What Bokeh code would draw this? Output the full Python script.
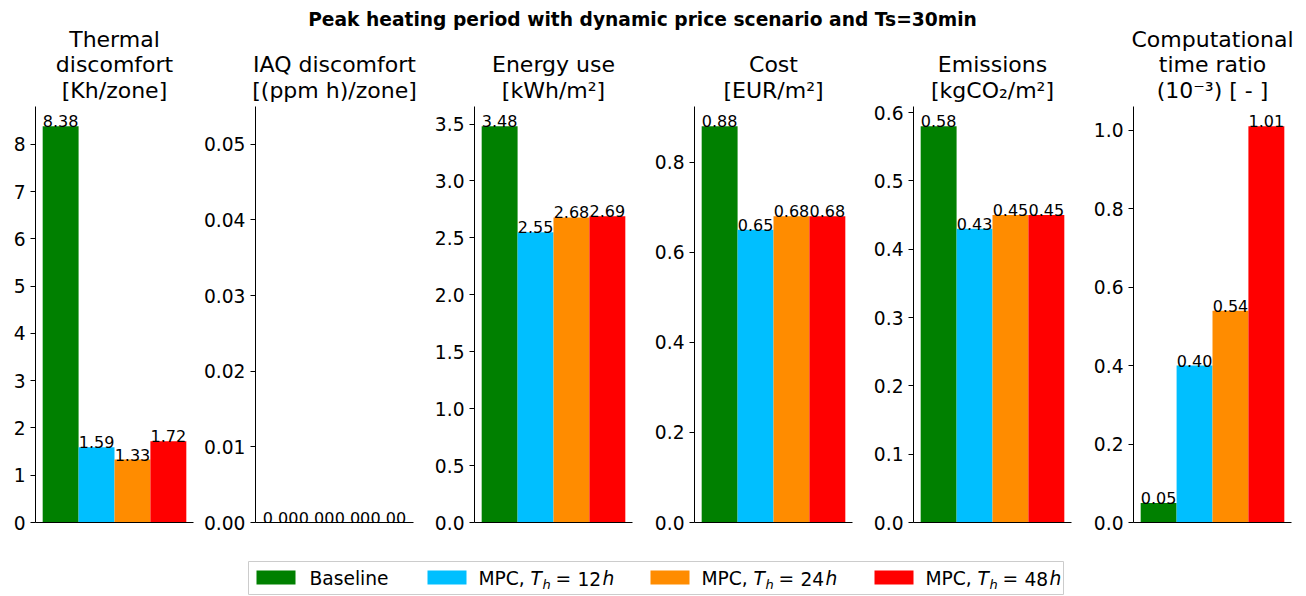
from bokeh.plotting import figure
from bokeh.layouts import column, row
from bokeh.models import ColumnDataSource, Range1d, FixedTicker, PrintfTickFormatter
from bokeh.embed import file_html
from bokeh.resources import INLINE
from bokeh.core.properties import value

# ---------------- data ----------------
suptitle = "Peak heating period with dynamic price scenario and Ts=30min"
series = ["Baseline", "MPC, T_h = 12h", "MPC, T_h = 24h", "MPC, T_h = 48h"]
horizons = ["12", "24", "48"]
colors = ["#008000", "#00bfff", "#ff8c00", "#ff0000"]

panel_titles = [
    ["Thermal", "discomfort", "[Kh/zone]"],
    ["IAQ discomfort", "[(ppm h)/zone]"],
    ["Energy use", "[kWh/m\u00b2]"],
    ["Cost", "[EUR/m\u00b2]"],
    ["Emissions", "[kgCO\u2082/m\u00b2]"],
    ["Computational", "time ratio", "(10\u207b\u00b3) [ - ]"],
]

thermal = [8.38, 1.59, 1.33, 1.72]
iaq = [0.0, 0.0, 0.0, 0.0]
energy = [3.48, 2.55, 2.68, 2.69]
cost = [0.88, 0.65, 0.68, 0.68]
emissions = [0.58, 0.43, 0.45, 0.45]
comp_ratio = [0.05, 0.40, 0.54, 1.01]

yticks_thermal = [0, 1, 2, 3, 4, 5, 6, 7, 8]
yticks_iaq = [0.0, 0.01, 0.02, 0.03, 0.04, 0.05]
yticks_energy = [0.0, 0.5, 1.0, 1.5, 2.0, 2.5, 3.0, 3.5]
yticks_cost = [0.0, 0.2, 0.4, 0.6, 0.8]
yticks_emissions = [0.0, 0.1, 0.2, 0.3, 0.4, 0.5, 0.6]
yticks_comp = [0.0, 0.2, 0.4, 0.6, 0.8, 1.0]

panels = [thermal, iaq, energy, cost, emissions, comp_ratio]
panel_ticks = [yticks_thermal, yticks_iaq, yticks_energy, yticks_cost, yticks_emissions, yticks_comp]
tick_formats = ["%d", "%.2f", "%.1f", "%.1f", "%.1f", "%.1f"]
iaq_empty_top = 0.055

# ---------------- layout ----------------
FONT = "DejaVu Sans"
FRAME_W = 158
FRAME_H = 416
TOP = 20          # row figures overlap the header by this many pixels
BOTTOM = 20
left_borders = [35, 59, 58, 58, 57, 58]
right_borders = [3, 3, 4, 4, 4, 15]
TOTAL_W = 1306
HEADER_H = 106
LEGEND_H = 54
BASE_SHIFT = 0.32  # em shift from baseline to the anchor used by the renderer
BAR_FS = 16

figs = []
centers = []
xpos = 0
for k, vals in enumerate(panels):
    vmax = max(vals)
    top = vmax * 1.05 if vmax > 0 else iaq_empty_top
    w = left_borders[k] + FRAME_W + right_borders[k]
    p = figure(width=w, height=TOP + FRAME_H + BOTTOM,
               x_range=Range1d(-0.7, 3.7), y_range=Range1d(0, top),
               output_backend="svg", toolbar_location=None,
               min_border_left=left_borders[k], min_border_right=right_borders[k],
               min_border_top=TOP, min_border_bottom=BOTTOM)
    centers.append(xpos + left_borders[k] + FRAME_W / 2)
    xpos += w
    p.outline_line_color = None
    p.grid.visible = False
    p.background_fill_color = "white"
    p.border_fill_color = None
    p.border_fill_alpha = 0

    src = ColumnDataSource(dict(
        x=list(range(len(vals))),
        top=vals,
        color=colors,
        label=["%.2f" % v for v in vals],
    ))
    p.vbar(x="x", top="top", width=1.0, bottom=0, fill_color="color",
           line_color=None, source=src)
    p.text(x="x", y="top", text="label", source=src,
           text_font=value(FONT), text_font_size="%dpx" % BAR_FS,
           text_align="center", text_baseline="alphabetic", text_color="black",
           y_offset=-round(BASE_SHIFT * BAR_FS))

    ya = p.yaxis[0]
    ya.ticker = FixedTicker(ticks=panel_ticks[k])
    ya.formatter = PrintfTickFormatter(format=tick_formats[k])
    ya.major_label_text_font = FONT
    ya.major_label_text_font_size = "18.67px"
    ya.major_label_text_color = "black"
    ya.major_tick_out = 5
    ya.major_tick_in = 0
    ya.minor_tick_out = 0
    ya.minor_tick_in = 0
    ya.major_label_standoff = 5
    ya.axis_line_color = "black"
    ya.axis_line_width = 1
    ya.major_tick_line_color = "black"

    xa = p.xaxis[0]
    xa.ticker = FixedTicker(ticks=[])
    xa.major_label_text_font_size = "0px"
    xa.major_tick_out = 0
    xa.major_tick_in = 0
    xa.minor_tick_out = 0
    xa.minor_tick_in = 0
    xa.major_label_standoff = 0
    xa.axis_line_color = "black"
    xa.axis_line_width = 1
    figs.append(p)

# ---------------- header (titles) ----------------
header = figure(width=TOTAL_W, height=HEADER_H,
                x_range=Range1d(0, TOTAL_W), y_range=Range1d(HEADER_H, 0),
                output_backend="svg", toolbar_location=None,
                x_axis_location=None, y_axis_location=None,
                min_border=0)
header.outline_line_color = None
header.grid.visible = False
SUP_FS = 18.67
header.text(x=[642], y=[25 - BASE_SHIFT * SUP_FS], text=[suptitle],
            text_font=value(FONT), text_font_size="18.67px", text_font_style="bold",
            text_align="center", text_baseline="alphabetic", text_color="black")
TITLE_FS = 22
LINE_SP = 25.5
LAST_BASE = 97
tx, ty, tt = [], [], []
for k, lines in enumerate(panel_titles):
    n = len(lines)
    for i, line in enumerate(lines):
        tx.append(centers[k])
        ty.append(LAST_BASE - (n - 1 - i) * LINE_SP - BASE_SHIFT * TITLE_FS)
        tt.append(line)
header.text(x=tx, y=ty, text=tt, text_font=value(FONT), text_font_size="22px",
            text_align="center", text_baseline="alphabetic", text_color="black")

# ---------------- legend ----------------
leg = figure(width=TOTAL_W, height=LEGEND_H,
             x_range=Range1d(0, TOTAL_W), y_range=Range1d(LEGEND_H, 0),
             output_backend="svg", toolbar_location=None,
             x_axis_location=None, y_axis_location=None, min_border=0)
leg.outline_line_color = None
leg.grid.visible = False
leg.quad(left=[248], right=[1063], top=[19], bottom=[52],
         fill_color="white", line_color="#cccccc", line_width=1)
sw_x = [256, 427, 650, 874]
leg.quad(left=sw_x, right=[s + 39 for s in sw_x], top=[28] * 4, bottom=[42] * 4,
         fill_color=colors, line_color=None)
LFS = 18.67
base_y = 42 - BASE_SHIFT * LFS
leg.text(x=[sw_x[0] + 53], y=[base_y], text=[series[0]], text_font=value(FONT),
         text_font_size="18.67px", text_baseline="alphabetic", text_color="black")
norm_x, norm_t, it_x, it_t, sub_x = [], [], [], [], []
for i, hz in enumerate(horizons):
    x0 = sw_x[i + 1] + 51
    norm_x += [x0, x0 + 77, x0 + 99]
    norm_t += ["MPC,", "=", hz]
    it_x += [x0 + 52, x0 + 124]
    it_t += ["T", "h"]
    sub_x.append(x0 + 64)
leg.text(x=norm_x, y=[base_y] * len(norm_x), text=norm_t, text_font=value(FONT),
         text_font_size="18.67px", text_baseline="alphabetic", text_color="black")
leg.text(x=it_x, y=[base_y] * len(it_x), text=it_t, text_font=value(FONT),
         text_font_size="18.67px", text_font_style="italic",
         text_baseline="alphabetic", text_color="black")
leg.text(x=sub_x, y=[46 - BASE_SHIFT * 13] * len(sub_x), text=["h"] * len(sub_x),
         text_font=value(FONT), text_font_size="13px", text_font_style="italic",
         text_baseline="alphabetic", text_color="black")

panel_row = row(*figs, spacing=0, margin=(-TOP, 0, 0, 0))
layout = column(header, panel_row, leg, spacing=0)
open("out.html", "w").write(file_html(layout, INLINE))
